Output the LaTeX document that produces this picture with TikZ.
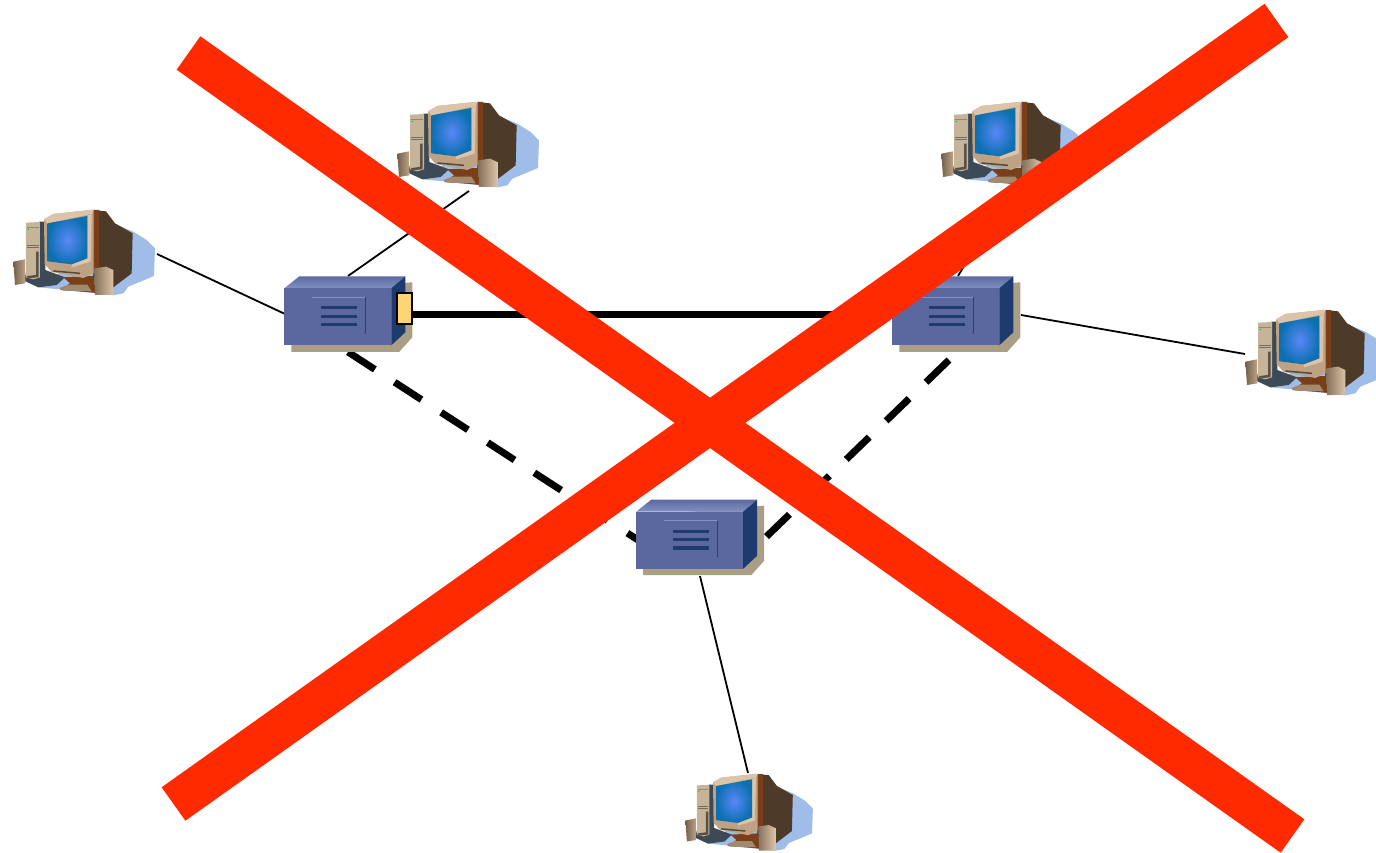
\documentclass[tikz,border=0pt]{standalone}
\definecolor{xred}{HTML}{FF2A00}
\definecolor{rfront}{HTML}{5A689F}
\definecolor{rtopa}{HTML}{5B6AA2}
\definecolor{rtopb}{HTML}{8291C2}
\definecolor{rside}{HTML}{1E3A6E}
\definecolor{rshadow}{HTML}{A89F85}
\definecolor{rlight}{HTML}{8592C2}
\definecolor{cardy}{HTML}{FFD473}
\definecolor{pcshadow}{HTML}{A0BCE8}
\definecolor{pcback}{HTML}{4D3A28}
\definecolor{pcstripe}{HTML}{7A3F1A}
\definecolor{pcface}{HTML}{BFA284}
\definecolor{pcfacel}{HTML}{DCC4A8}
\definecolor{pctower}{HTML}{C6B498}
\definecolor{pcdark}{HTML}{3C4A55}
\definecolor{pcstand}{HTML}{7A3F18}
\definecolor{scrin}{HTML}{5A88F8}
\definecolor{scrout}{HTML}{0C70B0}
\tikzset{
  thinlink/.style={draw=black,line width=1.8pt},
  thicklink/.style={draw=black,line width=7pt},
  dashlink/.style={draw=black,line width=7pt,dash pattern=on 32pt off 23.5pt},
  crossbar/.style={draw=xred,line width=41pt},
  pcsmall/.style={scale=.3},
  pcnormal/.style={scale=1/3},
  routerbox/.pic={
    \fill[rshadow] (7,4) -- (128,-6) -- (128,49) -- (115,63.5) -- (7,63.5) -- cycle;
    \shade[top color=rtopa,bottom color=rtopb] (0,0) -- (15,-12) -- (121,-12) -- (107,0) -- cycle;
    \fill[rside] (107,0) -- (121,-12) -- (121,44) -- (107,57) -- cycle;
    \fill[rfront] (0,0) rectangle (107,57);
    \draw[rlight,line width=1pt] (27.5,9) -- (81,9);
    \draw[rside!85!rfront,line width=1pt] (81,9) -- (81,45.5);
    \fill[rside] (36.7,17.8) rectangle (72.7,21);
    \fill[rside] (36.7,26.2) rectangle (72.7,29.4);
    \fill[rside] (36.7,34.6) rectangle (72.7,37.8);
  },
  pcunit/.pic={
    \fill[pcshadow] (340,100) -- (400,125) -- (440,150) -- (465,175) -- (462,258) -- (385,290) -- (370,310) -- (340,316) -- (200,300) -- (115,292) -- (190,240) -- cycle;
    \fill[pcdark] (118,95) -- (136,95) -- (136,240) -- (195,262) -- (170,285) -- (115,292) -- (72,272) -- cycle;
    \fill[pctower] (78,98) -- (120,96) -- (120,262) -- (100,268) -- (78,262) -- cycle;
    \fill[green!70!black] (85,118) circle (2);
    \fill[pctower!60!black] (82,165) rectangle (116,169);
    \fill[pctower!60!black] (82,172) rectangle (116,175);
    \fill[pctower!75!black] (82,110) rectangle (116,114);
    \draw[pctower!45!black,line width=2.5pt] (112,185) -- (112,258) -- (82,262);
    \fill[pcstand] (190,262) -- (280,258) -- (340,290) -- (320,312) -- (260,306) -- (180,300) -- (210,280) -- cycle;
    \fill[pcface!85!black] (205,284) -- (262,284) -- (275,304) -- (190,302) -- (178,294) -- cycle;
    \fill[pcback] (280,60) -- (318,64) -- (345,100) -- (398,130) -- (395,250) -- (340,292) -- (280,262) -- cycle;
    \fill[pcstripe] (280,60) -- (298,60) -- (298,240) -- (280,258) -- cycle;
    \fill[pcface] (132,88) -- (160,72) -- (281,59) -- (281,248) -- (250,264) -- (155,246) -- (134,222) -- cycle;
    \fill[pcfacel] (132,88) -- (160,72) -- (281,59) -- (275,72) -- (143,100) -- cycle;
    \fill[pcfacel] (262,78) -- (275,72) -- (272,215) -- (215,232) -- (215,223) -- (262,205) -- cycle;
    \shade[inner color=scrin,outer color=scrout] (143,100) -- (262,78) -- (262,205) -- (215,223) -- (143,214) -- cycle;
    \draw[pcface!45!black,line width=1.5pt] (160,243) -- (240,250);
    \shade[left color=pcface!60!black,right color=pcface] (40,215) -- (75,208) -- (76,280) -- (45,285) -- cycle;
    \shade[left color=pcface!70!black,right color=pcfacel] (283,235) -- (318,230) -- (340,240) -- (340,315) -- (285,315) -- cycle;
  }
}
\begin{document}
\begin{tikzpicture}[x=1pt,y=-1pt]
\useasboundingbox (0,0) rectangle (1376,853);
\clip (0,0) rectangle (1376,853);
% placement of the devices
\coordinate (rA) at (284.3,288.3);
\coordinate (rB) at (892.3,288.3);
\coordinate (rC) at (636.2,511.7);
\coordinate (pcA) at (0,190);
\coordinate (pcB) at (384,82);
\coordinate (pcC) at (928,82);
\coordinate (pcD) at (1232,290);
\coordinate (pcE) at (673.4,756);
% connector ends
\coordinate (pAo) at (157,254);
\coordinate (rAw) at (285,314);
\coordinate (pBo) at (469,191);
\coordinate (rAn) at (348,276);
\coordinate (pCo) at (1010,190);
\coordinate (rBn) at (958,276);
\coordinate (pDo) at (1245,354);
\coordinate (rBe) at (1021,315);
\coordinate (pEo) at (748,773);
\coordinate (rCs) at (700,576);
\coordinate (rAsd) at (348,352);
\coordinate (rCw) at (638,540);
\coordinate (rBsd) at (949,360);
\coordinate (rCe) at (765,538);
\coordinate (rBw) at (892,314);
% the X ends
\coordinate (xa) at (188.5,53);
\coordinate (xb) at (1292.5,836);
\coordinate (xc) at (1276.5,20.5);
\coordinate (xd) at (173.5,804);
% connectors
\draw[thinlink] (pAo) -- (rAw);
\draw[thinlink] (pBo) -- (rAn);
\draw[thinlink] (pCo) -- (rBn);
\draw[thinlink] (pDo) -- (rBe);
\draw[thinlink] (pEo) -- (rCs);
\draw[dashlink] (rAsd) -- (rCw);
\draw[dashlink] (rBsd) -- (rCe);
% devices
\pic[pcnormal] at (pcA) {pcunit};
\pic[pcnormal] at (pcB) {pcunit};
\pic[pcnormal] at (pcC) {pcunit};
\pic[pcnormal] at (pcD) {pcunit};
\pic[pcsmall] at (pcE) {pcunit};
\pic at (rA) {routerbox};
\pic at (rB) {routerbox};
\pic at (rC) {routerbox};
% card and trunk
\node[draw=black,line width=1.6pt,fill=cardy,minimum width=15.5pt,minimum height=31pt,inner sep=0pt,outer sep=0pt] (card) at (404.5,308.2) {};
\draw[thicklink] (card.east |- rBw) -- (rBw);
% the cross
\draw[crossbar] (xa) -- (xb);
\draw[crossbar] (xc) -- (xd);
\end{tikzpicture}
\end{document}
